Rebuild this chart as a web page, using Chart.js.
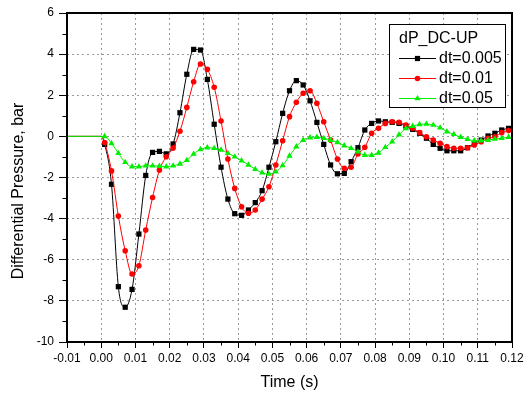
<!DOCTYPE html>
<html>
<head>
<meta charset="utf-8">
<script src="https://cdn.jsdelivr.net/npm/chart.js@4/dist/chart.umd.min.js"></script>
<style>
  html, body { margin: 0; padding: 0; background: #fff; }
  #wrap { width: 529px; height: 394px; }
</style>
</head>
<body>
<div id="wrap"><canvas id="c" width="529" height="394"></canvas></div>
<script>
// Sample times (s); the first two entries are the quiet level before the event
const time = [-0.010, 0.000,
  0.001, 0.003, 0.005, 0.007, 0.009, 0.011, 0.013, 0.015, 0.017, 0.019,
  0.021, 0.023, 0.025, 0.027, 0.029, 0.031, 0.033, 0.035, 0.037, 0.039,
  0.041, 0.043, 0.045, 0.047, 0.049, 0.051, 0.053, 0.055, 0.057, 0.059,
  0.061, 0.063, 0.065, 0.067, 0.069, 0.071, 0.073, 0.075, 0.077, 0.079,
  0.081, 0.083, 0.085, 0.087, 0.089, 0.091, 0.093, 0.095, 0.097, 0.099,
  0.101, 0.103, 0.105, 0.107, 0.109, 0.111, 0.113, 0.115, 0.117, 0.119];

// Differential pressure dP_DC-UP (bar) for each time step size
const dt0005 = [0, 0,
  -0.39, -2.33, -7.31, -8.31, -7.44, -4.75, -1.90, -0.78, -0.73, -0.85,
  -0.37, 1.15, 3.02, 4.23, 4.20, 2.77, 0.59, -1.50, -3.05, -3.76,
  -3.84, -3.58, -3.22, -2.64, -1.50, -0.26, 1.12, 2.22, 2.71, 2.50,
  1.73, 0.68, -0.39, -1.39, -1.82, -1.80, -1.23, -0.55, 0.31, 0.63,
  0.75, 0.71, 0.68, 0.63, 0.50, 0.34, 0.15, -0.09, -0.39, -0.58,
  -0.70, -0.70, -0.70, -0.55, -0.34, -0.18, 0.02, 0.15, 0.31, 0.39];

const dt001 = [0, 0,
  -0.30, -1.68, -3.87, -5.56, -6.69, -6.29, -4.55, -2.97, -1.64, -0.99,
  -0.57, 0.25, 1.41, 2.66, 3.52, 3.26, 2.39, 0.75, -1.10, -2.53,
  -3.42, -3.74, -3.58, -3.05, -2.45, -1.39, -0.21, 0.96, 1.66, 2.10,
  2.22, 1.61, 0.71, -0.18, -1.10, -1.55, -1.50, -0.86, -0.53, 0.15,
  0.39, 0.63, 0.71, 0.69, 0.55, 0.39, 0.18, -0.02, -0.18, -0.34,
  -0.50, -0.58, -0.58, -0.55, -0.42, -0.26, -0.09, -0.02, 0.18, 0.28];

const dt005 = [0, 0,
  0.00, -0.34, -0.82, -1.26, -1.47, -1.47, -1.43, -1.43, -1.45, -1.47,
  -1.43, -1.34, -1.16, -0.86, -0.63, -0.55, -0.58, -0.66, -0.82, -0.99,
  -1.18, -1.39, -1.60, -1.77, -1.83, -1.72, -1.42, -0.95, -0.50, -0.18,
  -0.06, -0.04, -0.09, -0.18, -0.29, -0.45, -0.58, -0.75, -0.91, -0.91,
  -0.80, -0.53, -0.26, 0.08, 0.39, 0.50, 0.58, 0.60, 0.55, 0.42,
  0.23, 0.10, -0.04, -0.14, -0.21, -0.21, -0.18, -0.13, -0.09, -0.04];

const legendTitle = 'dP_DC-UP';
const seriesNames = ['dt=0.005', 'dt=0.01', 'dt=0.05'];

const FONT = "'Liberation Sans', Arial, Helvetica, sans-serif";

const pts = arr => time.map((t, i) => ({ x: t, y: arr[i] }));

// no markers on the leading quiet-level points
const radius = r => ctx => (ctx.dataIndex < 2 ? 0 : r);

const series = [
  { label: seriesNames[0], data: pts(dt0005), color: '#000000', style: 'rect', r: 3.7, order: 3 },
  { label: seriesNames[1], data: pts(dt001), color: '#ff0000', style: 'circle', r: 2.8, order: 2 },
  { label: seriesNames[2], data: pts(dt005), color: '#00ee00', style: 'triangle', r: 3.6, order: 1 }
];

// minor ticks, outer frame, rotated y title and the inset legend
const decorations = {
  id: 'decorations',
  afterDatasetsDraw(chart) {
    const { ctx, chartArea: a, scales: { x, y } } = chart;
    ctx.save();
    ctx.strokeStyle = '#000';
    ctx.lineWidth = 1;
    ctx.beginPath();
    for (let k = 0; k < 13; k++) {
      const px = Math.round(x.getPixelForValue(-0.005 + 0.01 * k)) + 0.5;
      ctx.moveTo(px, a.bottom);
      ctx.lineTo(px, a.bottom + 3.5);
    }
    for (let v = -9; v <= 5; v += 2) {
      const py = Math.round(y.getPixelForValue(v)) + 0.5;
      ctx.moveTo(a.left - 4.5, py);
      ctx.lineTo(a.left, py);
    }
    ctx.stroke();

    ctx.lineWidth = 2;
    ctx.strokeRect(a.left, a.top, a.right - a.left, a.bottom - a.top);

    // y axis title
    ctx.save();
    ctx.translate(19, 191);
    ctx.rotate(-Math.PI / 2);
    ctx.fillStyle = '#000';
    ctx.font = '16px ' + FONT;
    ctx.textAlign = 'center';
    ctx.textBaseline = 'middle';
    ctx.fillText('Differential Pressure, bar', 0, 0);
    ctx.restore();

    // legend box
    const bx = 389.5, by = 24.5, bw = 116, bh = 83;
    ctx.fillStyle = '#fff';
    ctx.fillRect(bx, by, bw, bh);
    ctx.lineWidth = 1;
    ctx.strokeStyle = '#000';
    ctx.strokeRect(bx, by, bw, bh);
    ctx.fillStyle = '#000';
    ctx.font = '16px ' + FONT;
    ctx.textAlign = 'left';
    ctx.textBaseline = 'middle';
    ctx.fillText(legendTitle, 399, 39);
    series.forEach((s, i) => {
      const ly = 58.5 + i * 20;
      ctx.strokeStyle = s.color;
      ctx.lineWidth = 1;
      ctx.beginPath();
      ctx.moveTo(399, ly);
      ctx.lineTo(436, ly);
      ctx.stroke();
      ctx.fillStyle = s.color;
      Chart.helpers.drawPoint(ctx, { pointStyle: s.style, radius: s.r, rotation: 0, borderWidth: 0 }, 417.5, ly);
      ctx.fillStyle = '#000';
      ctx.fillText(s.label, 439, ly);
    });
    ctx.restore();
  }
};

new Chart(document.getElementById('c'), {
  type: 'line',
  data: {
    datasets: series.map(s => ({
      label: s.label,
      data: s.data,
      order: s.order,
      borderColor: s.color,
      backgroundColor: s.color,
      borderWidth: 1,
      pointStyle: s.style,
      pointRadius: radius(s.r),
      pointBackgroundColor: s.color,
      pointBorderWidth: 0,
      cubicInterpolationMode: 'monotone',
      fill: false
    }))
  },
  options: {
    responsive: false,
    animation: false,
    devicePixelRatio: 1,
    layout: { padding: { top: 13, right: 17, left: 0, bottom: 0 } },
    plugins: { legend: { display: false }, tooltip: { enabled: false } },
    scales: {
      x: {
        type: 'linear',
        min: -0.01,
        max: 0.12,
        afterFit: sc => { sc.height = 52; },
        ticks: {
          stepSize: 0.01,
          autoSkip: false,
          maxRotation: 0,
          padding: 3,
          color: '#000',
          font: { family: FONT, size: 12 },
          callback: v => Number(v).toFixed(2)
        },
        grid: {
          color: '#9a9a9a',
          lineWidth: 1,
          tickLength: 6,
          tickColor: '#000',
          tickWidth: 1,
          tickBorderDash: []
        },
        border: { display: false, dash: [2, 3] },
        title: {
          display: true,
          text: 'Time (s)',
          color: '#000',
          font: { family: FONT, size: 16 },
          padding: { top: 0, bottom: 2 }
        }
      },
      y: {
        min: -10,
        max: 6,
        afterFit: sc => { sc.width = 67; },
        ticks: {
          stepSize: 2,
          padding: 5,
          color: '#000',
          font: { family: FONT, size: 12 }
        },
        grid: {
          color: '#9a9a9a',
          lineWidth: 1,
          tickLength: 8,
          tickColor: '#000',
          tickWidth: 1,
          tickBorderDash: []
        },
        border: { display: false, dash: [2, 3] }
      }
    }
  },
  plugins: [decorations]
});
</script>
</body>
</html>
